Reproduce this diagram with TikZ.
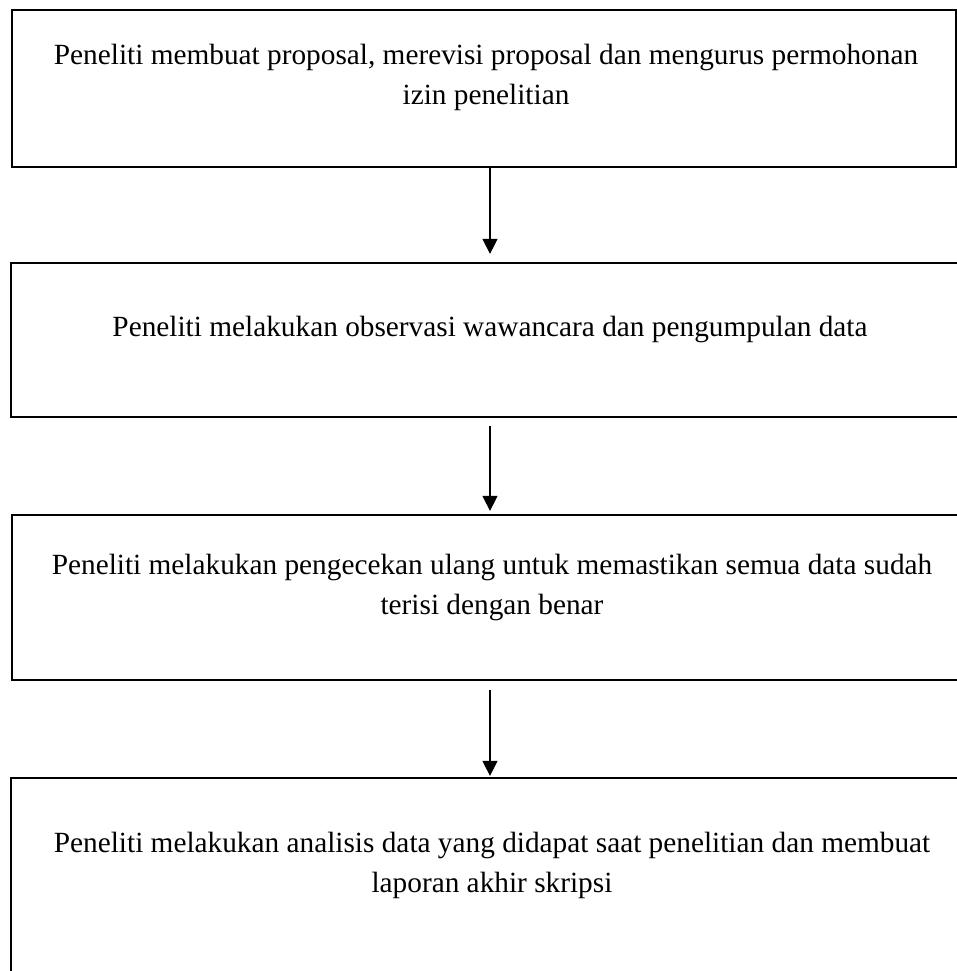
\documentclass[tikz,border=0pt]{standalone}
\usepackage{fontspec}
\setmainfont{Liberation Serif}
\usetikzlibrary{arrows.meta}

\tikzset{
	kotak/.style={rectangle, draw=black, line width=2.2pt, inner sep=0pt},
	teks/.style={align=center, font=\fontsize{29.3}{40}\selectfont, inner sep=0pt},
	panah/.style={-{Triangle[length=15pt,width=15pt]}, line width=1.1pt}
}

\begin{document}
\begin{tikzpicture}[x=1pt, y=-1pt]
	\clip (0,0) rectangle (957,971);

	\node at (484,88.5) [kotak, minimum width=944pt, minimum height=157pt] (k1) {};
	\node at (485,340) [kotak, minimum width=948pt, minimum height=154pt] (k2) {};
	\node at (485.5,597.5) [kotak, minimum width=947pt, minimum height=165pt] (k3) {};
	\node at (485,884) [kotak, minimum width=948pt, minimum height=212pt] (k4) {};

	\node at (486,77) [teks] (t1) {Peneliti membuat proposal, merevisi proposal dan mengurus permohonan\\izin penelitian};
	\node at (490,329) [teks] (t2) {Peneliti melakukan observasi wawancara dan pengumpulan data};
	\node at (492,587) [teks] (t3) {Peneliti melakukan pengecekan ulang untuk memastikan semua data sudah\\terisi dengan benar};
	\node at (492,865) [teks] (t4) {Peneliti melakukan analisis data yang didapat saat penelitian dan membuat\\laporan akhir skripsi};

	\draw [panah, shorten >=8pt] (k1.south -| 490,0) -- (k2.north -| 490,0);
	\draw [panah, shorten <=8pt, shorten >=3pt] (k2.south -| 490,0) -- (k3.north -| 490,0);
	\draw [panah, shorten <=9pt, shorten >=1pt] (k3.south -| 490,0) -- (k4.north -| 490,0);
\end{tikzpicture}
\end{document}
